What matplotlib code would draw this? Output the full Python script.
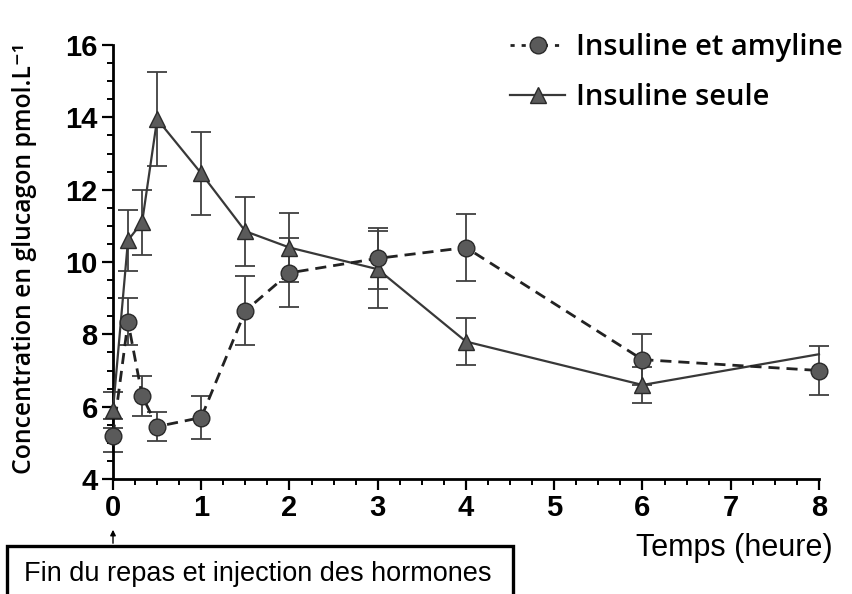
import matplotlib
matplotlib.use("Agg")
import matplotlib.pyplot as plt
from matplotlib.lines import Line2D
from matplotlib.patches import Rectangle
from matplotlib.ticker import MultipleLocator

# temps en heures
temps = [0, 0.17, 0.33, 0.5, 1, 1.5, 2, 3, 4, 6, 8]

# Insuline et amyline (cercles, pointillés)
amyline = [5.2, 8.35, 6.3, 5.45, 5.7, 8.65, 9.7, 10.1, 10.4, 7.3, 7.0]
amyline_err = [0.45, 0.65, 0.55, 0.4, 0.6, 0.95, 0.95, 0.85, 0.93, 0.7, 0.68]

# Insuline seule (triangles, trait plein)
seule = [5.9, 10.6, 11.1, 13.95, 12.45, 10.85, 10.4, 9.8, 7.8, 6.6, 7.45]
seule_err = [0.5, 0.85, 0.9, 1.3, 1.15, 0.95, 0.95, 1.07, 0.65, 0.5, 0.0]

xticks = [0, 1, 2, 3, 4, 5, 6, 7, 8]
yticks = [4, 6, 8, 10, 12, 14, 16]

fig = plt.figure(figsize=(8.53, 5.94), dpi=100)
ax = fig.add_axes([113 / 853, 115 / 594, 706 / 853, 434 / 594])

gris = "#5a5a5a"
bord = "#2a2a2a"

# erreurs
ax.errorbar(temps[:-1], seule[:-1], yerr=seule_err[:-1], fmt="none", ecolor="#404040",
            elinewidth=1.3, capsize=7, capthick=1.3, clip_on=False, zorder=2)
ax.errorbar(temps, amyline, yerr=amyline_err, fmt="none", ecolor="#404040",
            elinewidth=1.3, capsize=7, capthick=1.3, clip_on=False, zorder=2)

ax.plot(temps, seule, "-", color="#383838", lw=1.6, zorder=3, clip_on=False)
ax.plot(temps[:-1], seule[:-1], "^", ms=12, mfc=gris, mec=bord, mew=1, zorder=4, clip_on=False)
ax.plot(temps, amyline, color="#222222", lw=2, dashes=(4, 2.5), zorder=3, clip_on=False)
ax.plot(temps, amyline, "o", ms=12, mfc=gris, mec=bord, mew=1, zorder=5, clip_on=False)

ax.set_xlim(0, 8)
ax.set_ylim(4, 16)
ax.set_xticks(xticks)
ax.set_yticks(yticks)
ax.xaxis.set_minor_locator(MultipleLocator(0.25))
ax.yaxis.set_minor_locator(MultipleLocator(0.5))
ax.spines["top"].set_visible(False)
ax.spines["right"].set_visible(False)
ax.spines["left"].set_linewidth(2)
ax.spines["bottom"].set_linewidth(2)
ax.tick_params(which="major", length=8, width=1.6, direction="out", pad=3)
ax.tick_params(which="minor", length=4, width=1.4, direction="out")
for lab in ax.get_xticklabels() + ax.get_yticklabels():
    lab.set_family("Liberation Sans")
    lab.set_fontweight("bold")
    lab.set_fontsize(21)

fig.text(25 / 853, 1 - 259 / 594, "Concentration en glucagon pmol.L\u207b\u00b9",
         rotation=90, ha="center", va="center", fontsize=17.8, fontweight="semibold",
         family=["Open Sans", "DejaVu Sans"])
fig.text(833 / 853, 1 - 533 / 594, "Temps (heure)", ha="right", va="top",
         fontsize=22, family="Liberation Sans")

# légende
h1 = Line2D([], [], color="#222222", lw=2, dashes=(1.5, 2.5), marker="o", ms=12,
            mfc=gris, mec=bord)
h2 = Line2D([], [], color="#383838", lw=1.6, marker="^", ms=12, mfc=gris, mec=bord)
fig.legend([h1, h2], ["Insuline et amyline", "Insuline seule"], loc="upper left",
           bbox_to_anchor=(510 / 853, 1 - 33 / 594), frameon=False, borderpad=0,
           borderaxespad=0, handlelength=1.9, handletextpad=0.35, labelspacing=0.72,
           prop={"family": "Open Sans", "size": 21, "weight": "semibold"})

# encadré
fig.patches.append(Rectangle((7 / 853, -0.05), 506 / 853, 0.05 + 48 / 594,
                             transform=fig.transFigure, fill=False, ec="black", lw=2.4))
fig.text(258 / 853, 1 - 574 / 594, "Fin du repas et injection des hormones",
         ha="center", va="center", fontsize=19.5, family="Liberation Sans")
ax.annotate("", xy=(113 / 853, 1 - 527 / 594), xytext=(113 / 853, 1 - 546 / 594),
            xycoords="figure fraction", textcoords="figure fraction",
            arrowprops=dict(arrowstyle="-|>", color="black", lw=1, mutation_scale=8))

fig.savefig("out.png", dpi=100)
